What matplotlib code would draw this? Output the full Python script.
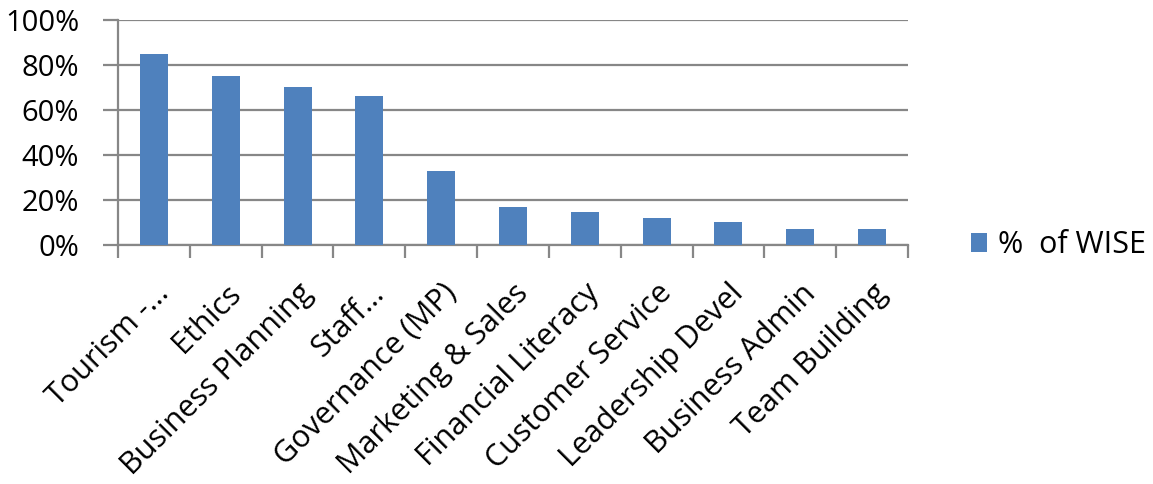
import numpy as np
import matplotlib.pyplot as plt
from matplotlib.ticker import FixedLocator, PercentFormatter
from matplotlib.transforms import ScaledTranslation

topics = ['Tourism -...', 'Ethics', 'Business Planning', 'Staff...',
          'Governance (MP)', 'Marketing & Sales', 'Financial Literacy',
          'Customer Service', 'Leadership Devel', 'Business Admin',
          'Team Building']
pct_wise = [85, 75, 70, 66, 33, 17, 14.5, 12, 10, 7, 7]
yticks = [0, 20, 40, 60, 80, 100]

plt.rcParams['font.family'] = ['Open Sans', 'DejaVu Sans']
grey = '#878787'
blue = '#4F81BD'

fig = plt.figure(figsize=(11.53, 4.84), dpi=100)
ax = fig.add_axes([0.1023, 0.4938, 0.6852, 0.4649])

x = np.arange(len(topics))
ax.bar(x, pct_wise, width=0.39, color=blue, label='%  of WISE', zorder=3)

ax.set_xlim(-0.5, len(topics) - 0.5)
ax.set_ylim(0, 100)
ax.set_yticks(yticks)
ax.yaxis.set_major_formatter(PercentFormatter(decimals=0))
ax.grid(axis='y', color=grey, linewidth=1.6, zorder=0)

ax.set_xticks(x)
ax.set_xticklabels(topics, rotation=45, ha='right', rotation_mode='anchor',
                   fontsize=22)
# nudge the slanted labels a little to the left
shift = ScaledTranslation(-6 / 100, 0, fig.dpi_scale_trans)
for lbl in ax.get_xticklabels():
    lbl.set_transform(lbl.get_transform() + shift)
ax.xaxis.set_minor_locator(FixedLocator(np.arange(-0.5, len(topics), 1)))
ax.tick_params(axis='x', which='major', length=0, pad=24)
ax.tick_params(axis='x', which='minor', length=9, width=1.6, color=grey)
ax.tick_params(axis='y', length=11, width=1.6, color=grey, labelsize=21, pad=17)

for side in ('top', 'right'):
    ax.spines[side].set_visible(False)
for side in ('left', 'bottom'):
    ax.spines[side].set_color(grey)
    ax.spines[side].set_linewidth(1.6)

ax.legend(loc='center left', bbox_to_anchor=(1.045, 0.0), frameon=False,
          fontsize=22, handlelength=0.52, handleheight=0.6, handletextpad=0.35)

fig.savefig('out.png', dpi=100)
